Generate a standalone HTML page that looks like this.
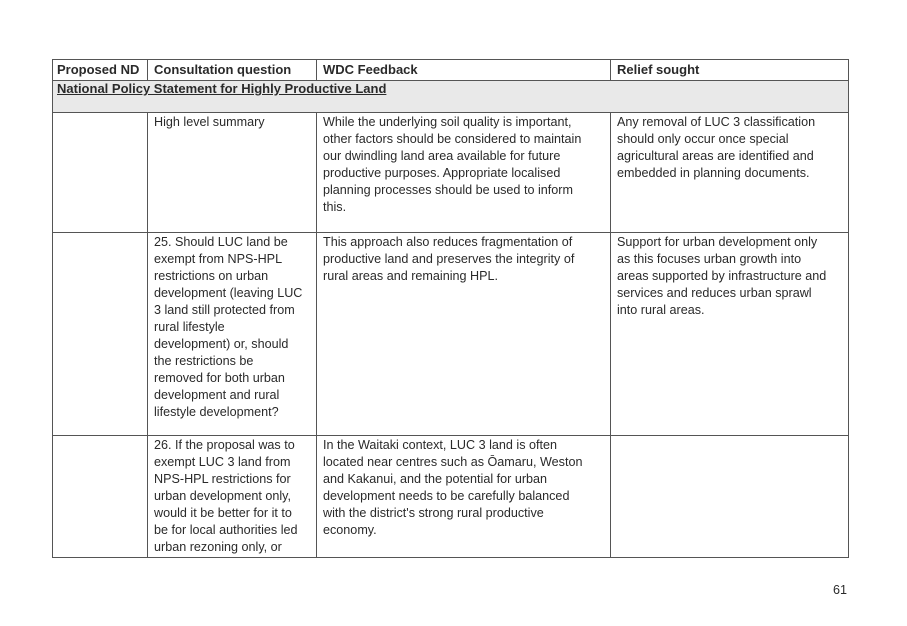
<!DOCTYPE html>
<html><head><meta charset="utf-8"><style>
body{margin:0;width:907px;height:626px;background:#fff;position:relative;font-family:"Liberation Sans",sans-serif;color:#2a2a2a;overflow:hidden}
.l{position:absolute;background:#555}
.t{position:absolute;font-size:12.6px;line-height:17px;white-space:nowrap}
.b{font-weight:bold;font-size:13px;line-height:19px}
</style></head><body>
<div style="position:absolute;left:52px;top:81px;width:796px;height:31px;background:#e9e9e9"></div>
<div class="l" style="left:52px;top:59px;width:796px;height:1px"></div>
<div class="l" style="left:52px;top:80px;width:796px;height:1px"></div>
<div class="l" style="left:52px;top:112px;width:796px;height:1px"></div>
<div class="l" style="left:52px;top:232px;width:796px;height:1px"></div>
<div class="l" style="left:52px;top:435px;width:796px;height:1px"></div>
<div class="l" style="left:52px;top:557px;width:796px;height:1px"></div>
<div class="l" style="left:52px;top:59px;width:1px;height:499px"></div>
<div class="l" style="left:848px;top:59px;width:1px;height:499px"></div>
<div class="l" style="left:147px;top:59px;width:1px;height:22px"></div>
<div class="l" style="left:316px;top:59px;width:1px;height:22px"></div>
<div class="l" style="left:610px;top:59px;width:1px;height:22px"></div>
<div class="l" style="left:147px;top:112px;width:1px;height:446px"></div>
<div class="l" style="left:316px;top:112px;width:1px;height:446px"></div>
<div class="l" style="left:610px;top:112px;width:1px;height:446px"></div>

<div class="t b" style="left:57px;top:60px">Proposed ND</div>
<div class="t b" style="left:154px;top:60px">Consultation question</div>
<div class="t b" style="left:323px;top:60px">WDC Feedback</div>
<div class="t b" style="left:617px;top:60px">Relief sought</div>
<div class="t b" style="left:57px;top:79px;text-decoration:underline">National Policy Statement for Highly Productive Land</div>

<div class="t" style="left:154px;top:114px">High level summary</div>
<div class="t" style="left:323px;top:114px">While the underlying soil quality is important,<br>other factors should be considered to maintain<br>our dwindling land area available for future<br>productive purposes. Appropriate localised<br>planning processes should be used to inform<br>this.</div>
<div class="t" style="left:617px;top:114px">Any removal of LUC 3 classification<br>should only occur once special<br>agricultural areas are identified and<br>embedded in planning documents.</div>

<div class="t" style="left:154px;top:234px">25. Should LUC land be<br>exempt from NPS-HPL<br>restrictions on urban<br>development (leaving LUC<br>3 land still protected from<br>rural lifestyle<br>development) or, should<br>the restrictions be<br>removed for both urban<br>development and rural<br>lifestyle development?</div>
<div class="t" style="left:323px;top:234px">This approach also reduces fragmentation of<br>productive land and preserves the integrity of<br>rural areas and remaining HPL.</div>
<div class="t" style="left:617px;top:234px">Support for urban development only<br>as this focuses urban growth into<br>areas supported by infrastructure and<br>services and reduces urban sprawl<br>into rural areas.</div>

<div class="t" style="left:154px;top:437px">26. If the proposal was to<br>exempt LUC 3 land from<br>NPS-HPL restrictions for<br>urban development only,<br>would it be better for it to<br>be for local authorities led<br>urban rezoning only, or</div>
<div class="t" style="left:323px;top:437px">In the Waitaki context, LUC 3 land is often<br>located near centres such as Ōamaru, Weston<br>and Kakanui, and the potential for urban<br>development needs to be carefully balanced<br>with the district's strong rural productive<br>economy.</div>

<div class="t" style="left:833px;top:582px">61</div>
</body></html>
